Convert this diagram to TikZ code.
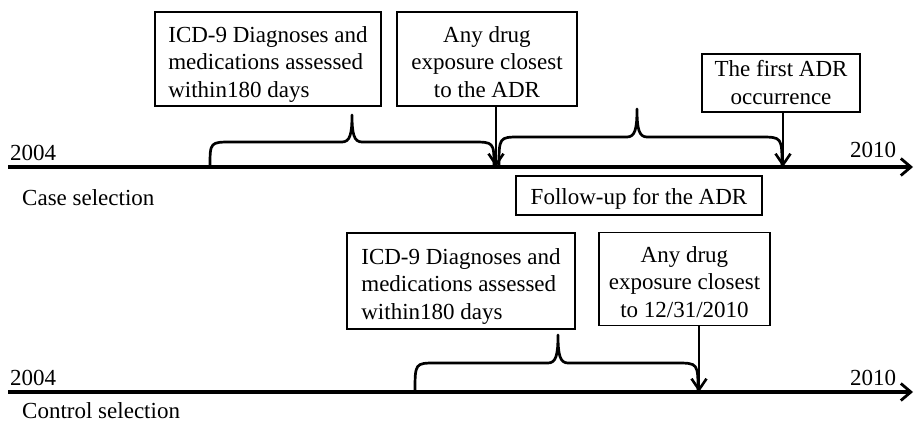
\documentclass[tikz,border=0pt]{standalone}
\usepackage{fontspec}
\setmainfont{Liberation Serif}
\usetikzlibrary{arrows.meta}
\newcommand\bxtext[3]{\raisebox{-#1pt}[\height][\depth]{\begin{tabular}{@{}#2@{}}#3\end{tabular}}}
\begin{document}
\begin{tikzpicture}[x=1pt,y=-1pt,
  every node/.style={font=\fontsize{23}{27.5}\selectfont, inner sep=0pt},
  box/.style={draw, line width=1.4pt},
  timeline/.style={line width=3.2pt, -{Straight Barb[length=10pt,width=17pt,line width=2.8pt]}},
  arr/.style={line width=2.8pt, -{Straight Barb[length=11pt,width=15pt,line width=2.6pt]}},
  bracepath/.style={line width=2.7pt, line join=round}]
\useasboundingbox (0,0) rectangle (915,431);

% ---- Case selection ----
\coordinate (s1) at (8,167);
\coordinate (e1) at (913,167);
\draw[timeline] (s1) -- (e1);
\node[anchor=base west] (y04a) at (10,160) {2004};
\node[anchor=base west] (y10a) at (850,157) {2010};
\node[anchor=base west] (case) at (22,205) {Case selection};

\node[box, minimum width=226pt, minimum height=94pt] (icd1) at (268,59)
  {\bxtext{5}{l}{ICD-9 Diagnoses and\\medications assessed\\within180 days}};
\node[box, minimum width=180pt, minimum height=94pt] (drug1) at (487,59)
  {\bxtext{5}{c}{Any drug\\exposure closest\\to the ADR}};
\node[box, minimum width=158pt, minimum height=58pt] (adr) at (781,83)
  {\bxtext{2}{c}{The first ADR\\occurrence}};
\node[box, minimum width=246pt, minimum height=39pt] (fu) at (639,195.5)
  {\bxtext{3}{c}{Follow-up for the ADR}};

\coordinate (p1) at (496,167);
\coordinate (p2) at (783,167);
\draw[arr] (drug1.south -| p1) -- (p1);
\draw[arr] (adr.south -| p2) -- (p2);

% brace 1
\draw[bracepath] (210,167) .. controls (210,142) .. (232,142) -- (342,142)
  .. controls (350,142) and (352,134) .. (352,115)
  .. controls (352,134) and (354,142) .. (362,142) -- (472,142)
  .. controls (494,142) .. (494,167);
% brace 2
\draw[bracepath] (499,167) .. controls (499,137) .. (520,137) -- (627,137)
  .. controls (635,137) and (637,129) .. (637,109)
  .. controls (637,129) and (639,137) .. (647,137) -- (760,137)
  .. controls (782,137) .. (782,167);

% ---- Control selection ----
\coordinate (s2) at (8,392);
\coordinate (e2) at (913,392);
\draw[timeline] (s2) -- (e2);
\node[anchor=base west] (y04b) at (10,385) {2004};
\node[anchor=base west] (y10b) at (850,385) {2010};
\node[anchor=base west] (ctrl) at (22,418) {Control selection};

\node[box, minimum width=228pt, minimum height=96pt] (icd2) at (461,281)
  {\bxtext{5}{l}{ICD-9 Diagnoses and\\medications assessed\\within180 days}};
\node[box, minimum width=171pt, minimum height=93pt] (drug2) at (684.5,279)
  {\bxtext{5}{c}{Any drug\\exposure closest\\to 12/31/2010}};

\coordinate (p3) at (699,392);
\draw[arr] (drug2.south -| p3) -- (p3);

% brace 3
\draw[bracepath] (415,392) .. controls (415,363) .. (436,363) -- (548,363)
  .. controls (556,363) and (558,355) .. (558,335)
  .. controls (558,355) and (560,363) .. (568,363) -- (676,363)
  .. controls (698,363) .. (698,392);
\end{tikzpicture}
\end{document}
